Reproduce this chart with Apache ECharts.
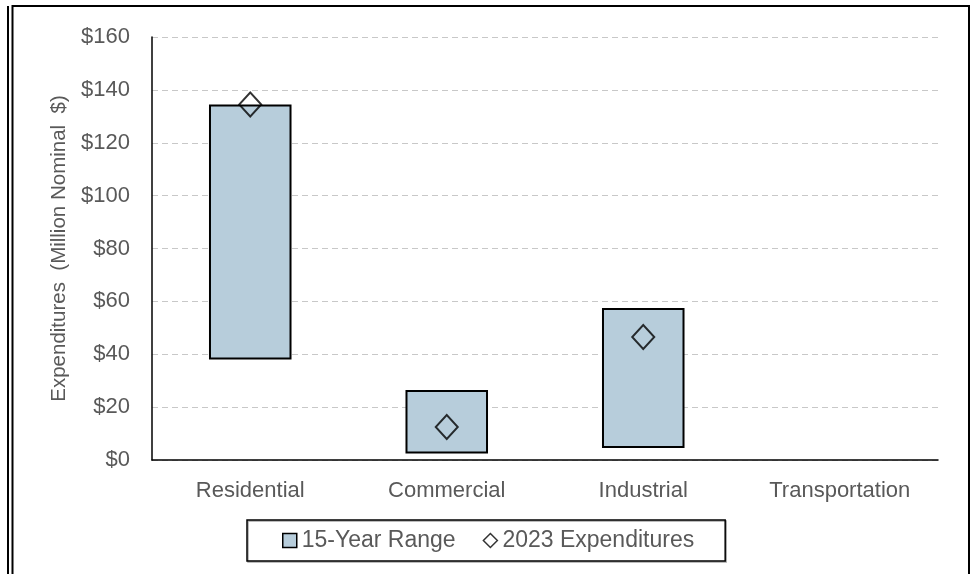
<!DOCTYPE html>
<html>
<head>
<meta charset="utf-8">
<script src="https://cdn.jsdelivr.net/npm/echarts@6/dist/echarts.min.js"></script>
<style>
  html, body { margin: 0; padding: 0; background: #fff; }
  #chart { width: 977px; height: 574px; }
</style>
</head>
<body>
<div id="chart"></div>
<script>
// Sector categories and 15-year expenditure ranges (million nominal $)
var categories = ['Residential', 'Commercial', 'Industrial', 'Transportation'];
var rangeLow = [38, 2.5, 4.5, null];
var rangeHigh = [134.5, 26.5, 57.5, null];
var expenditures2023 = [134.5, 12.5, 46.5, null];
var yTicks = [0, 20, 40, 60, 80, 100, 120, 140, 160];

var rangeSpan = rangeHigh.map(function (h, i) {
  return (h == null || rangeLow[i] == null) ? null : h - rangeLow[i];
});

var textColor = '#595959';
var barColor = '#b7cddb';

var chart = echarts.init(document.getElementById('chart'));
chart.setOption({
  animation: false,
  backgroundColor: '#fff',
  textStyle: { fontFamily: 'Liberation Sans, Arial, sans-serif' },
  grid: { left: 152, right: 39, top: 37, bottom: 114, containLabel: false },
  xAxis: {
    type: 'category',
    data: categories,
    axisLine: { lineStyle: { color: '#000', width: 1.5 } },
    axisTick: { show: false },
    axisLabel: { color: textColor, fontSize: 22, margin: 20 }
  },
  yAxis: {
    type: 'value',
    min: yTicks[0],
    max: yTicks[yTicks.length - 1],
    interval: 20,
    name: 'Expenditures  (Million Nominal  $)',
    nameLocation: 'middle',
    nameGap: 79,
    nameTextStyle: { color: textColor, fontSize: 20.5 },
    axisLine: { show: true, lineStyle: { color: '#000', width: 1.5 } },
    axisTick: { show: false },
    axisLabel: { color: textColor, fontSize: 22, margin: 22, formatter: function (v) { return '$' + v; } },
    splitLine: { lineStyle: { color: '#c8c8c8', type: [6, 4], width: 1 } }
  },
  legend: {
    left: 247,
    top: 520,
    padding: [9, 31, 9, 35],
    itemGap: 27,
    itemWidth: 14,
    itemHeight: 14,
    borderColor: '#000',
    borderWidth: 1.5,
    shadowColor: 'rgba(0,0,0,0.35)',
    shadowOffsetX: 1,
    shadowOffsetY: 1,
    textStyle: { color: textColor, fontSize: 23 },
    data: [
      { name: '15-Year Range', icon: 'rect', itemStyle: { color: barColor, borderColor: '#000', borderWidth: 1.5 } },
      { name: '2023 Expenditures', icon: 'diamond', itemStyle: { color: '#fff', borderColor: '#000', borderWidth: 1.5 } }
    ]
  },
  series: [
    {
      name: 'base',
      type: 'bar',
      stack: 'range',
      data: rangeLow,
      barWidth: '42%',
      itemStyle: { color: 'transparent' },
      silent: true
    },
    {
      name: '15-Year Range',
      type: 'bar',
      stack: 'range',
      data: rangeSpan,
      barWidth: '42%',
      itemStyle: { color: barColor, borderColor: '#000', borderWidth: 2 }
    },
    {
      name: '2023 Expenditures',
      type: 'scatter',
      data: expenditures2023,
      symbol: 'diamond',
      symbolSize: [22, 24],
      z: 5,
      itemStyle: { color: 'rgba(0,0,0,0)', borderColor: '#000', borderWidth: 2 }
    }
  ],
  graphic: [
    { type: 'polyline', shape: { points: [[8, 574], [8, 6]] }, style: { stroke: '#000', lineWidth: 2, fill: null } },
    { type: 'polyline', shape: { points: [[12.5, 574], [12.5, 6], [969, 6], [969, 574]] }, style: { stroke: '#000', lineWidth: 2, fill: null } }
  ]
});
</script>
</body>
</html>
